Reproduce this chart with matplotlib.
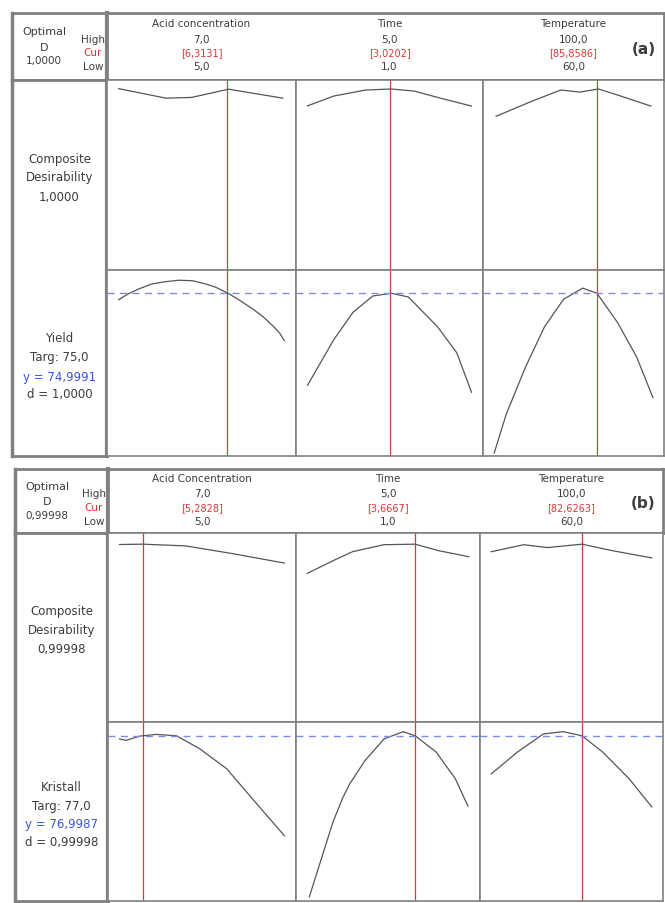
import matplotlib.pyplot as plt

W, H = 665, 904

# ---- panel (a): Yield ----
names_a = ['Acid concentration', 'Time', 'Temperature']
high_a = ['7,0', '5,0', '100,0']
low_a = ['5,0', '1,0', '60,0']
cur_a = ['[6,3131]', '[3,0202]', '[85,8586]']
lo_a = [5.0, 1.0, 60.0]
hi_a = [7.0, 5.0, 100.0]
opt_a = [6.3131, 3.0202, 85.8586]
D_a = '1,0000'
resp_a = ['Yield', 'Targ: 75,0', 'y = 74,9991', 'd = 1,0000']
target_a = 75.0

acid_d_x_a = [5.0, 5.57, 5.88, 6.30, 6.33, 6.45, 6.98]
acid_d_a = [1.0, 0.945, 0.949, 0.994, 0.997, 0.987, 0.945]
time_d_x_a = [1.0, 1.64, 2.42, 3.04, 3.60, 4.24, 5.0]
time_d_a = [0.90, 0.957, 0.992, 0.998, 0.986, 0.945, 0.899]
temp_d_x_a = [60.5, 69.6, 76.8, 81.6, 86.3, 91.1, 99.5]
temp_d_a = [0.84, 0.928, 0.992, 0.98, 0.998, 0.963, 0.899]

acid_y_x_a = [5.0, 5.12, 5.24, 5.40, 5.57, 5.73, 5.89, 6.05, 6.17, 6.32,
              6.45, 6.62, 6.74, 6.86, 6.94, 7.0]
acid_y_a = [73.6, 74.9, 75.9, 77.0, 77.5, 77.8, 77.7, 77.0, 76.3, 75.0,
            73.6, 71.6, 70.0, 68.0, 66.5, 64.8]
time_y_x_a = [1.0, 1.64, 2.11, 2.59, 3.04, 3.46, 4.17, 4.64, 5.0]
time_y_a = [55.2, 65.0, 70.9, 74.4, 75.0, 74.2, 67.8, 62.2, 53.7]
temp_y_x_a = [60.0, 63.1, 67.9, 72.7, 77.5, 82.3, 85.9, 91.1, 95.9, 100.0]
temp_y_a = [40.6, 49.1, 59.1, 67.8, 73.7, 76.1, 75.0, 68.7, 61.3, 52.6]

# ---- panel (b): Kristall ----
names_b = ['Acid Concentration', 'Time', 'Temperature']
high_b = ['7,0', '5,0', '100,0']
low_b = ['5,0', '1,0', '60,0']
cur_b = ['[5,2828]', '[3,6667]', '[82,6263]']
lo_b = [5.0, 1.0, 60.0]
hi_b = [7.0, 5.0, 100.0]
opt_b = [5.2828, 3.6667, 82.6263]
D_b = '0,99998'
resp_b = ['Kristall', 'Targ: 77,0', 'y = 76,9987', 'd = 0,99998']
target_b = 77.0

acid_d_x_b = [5.0, 5.28, 5.8, 6.37, 7.0]
acid_d_b = [0.998, 1.0, 0.99, 0.945, 0.89]
time_d_x_b = [1.0, 1.64, 2.12, 2.9, 3.67, 4.26, 5.0]
time_d_b = [0.83, 0.904, 0.956, 0.997, 1.0, 0.962, 0.927]
temp_d_x_b = [60.0, 68.1, 74.0, 82.6, 90.2, 100.0]
temp_d_b = [0.956, 0.997, 0.98, 1.0, 0.962, 0.92]

acid_y_x_b = [5.0, 5.08, 5.24, 5.28, 5.45, 5.69, 5.97, 6.3, 6.61, 7.0]
acid_y_b = [76.3, 76.0, 76.9, 77.0, 77.3, 77.0, 74.2, 69.8, 63.3, 55.2]
time_y_x_b = [1.05, 1.64, 1.88, 2.05, 2.43, 2.9, 3.38, 3.67, 4.19, 4.67, 4.98]
time_y_b = [41.9, 58.3, 63.5, 66.5, 71.6, 76.3, 77.9, 77.0, 73.5, 67.6, 61.7]
temp_y_x_b = [60.0, 66.6, 73.0, 77.9, 82.6, 87.7, 94.4, 100.0]
temp_y_b = [68.7, 73.5, 77.4, 77.9, 77.0, 73.5, 67.6, 61.5]

TXT = '#3c3c3c'
RED = '#e03535'
BLUE = '#3a55e0'
EDGE = '#808080'

fig = plt.figure(figsize=(W / 100, H / 100), dpi=100)


def fbox(x0, y0, x1, y1):
    return [x0 / W, 1 - y1 / H, (x1 - x0) / W, (y1 - y0) / H]


def ftext(x, y, s, **kw):
    kw.setdefault('color', TXT)
    fig.text(x / W, 1 - y / H, s, ha='center', va='center', **kw)


def blank(ax, lw=1.2):
    ax.set_xticks([])
    ax.set_yticks([])
    for sp in ax.spines.values():
        sp.set_color(EDGE)
        sp.set_linewidth(lw)


def panel(lay, names, highs, lows, curs, lo, hi, opt, D, resp, target,
          dcurves, ycurves, ylim_y, tag):
    x0, top, hdr, mid, bot = lay['x0'], lay['top'], lay['hdr'], lay['mid'], lay['bot']
    cols = lay['cols']
    # header
    hl = fig.add_axes(fbox(x0, top, cols[0], hdr))
    blank(hl, 2)
    hr = fig.add_axes(fbox(cols[0], top, cols[-1], hdr))
    blank(hr, 2)
    # left label column
    lc = fig.add_axes(fbox(x0, hdr, cols[0], bot))
    blank(lc, 2)
    hl.spines['right'].set_linewidth(3)
    lc.spines['right'].set_linewidth(3)
    hl.spines['left'].set_linewidth(2.5)
    lc.spines['left'].set_linewidth(2.5)

    ty = lay['ty']
    ox = x0 + 32
    ftext(ox, ty[0] + 8, 'Optimal', fontsize=8)
    ftext(ox, ty[1] + 8, 'D', fontsize=8)
    ftext(ox, ty[2] + 8, D, fontsize=7.5)
    ftext(cols[0] - 14, ty[1], 'High', fontsize=7.5)
    ftext(cols[0] - 14, ty[2], 'Cur', fontsize=7.5, color=RED)
    ftext(cols[0] - 14, ty[3], 'Low', fontsize=7.5)
    for i in range(3):
        cx = (cols[i] + cols[i + 1]) / 2
        ftext(cx, ty[0], names[i], fontsize=7.5)
        ftext(cx, ty[1], highs[i], fontsize=7.5)
        ftext(cx, ty[2], curs[i], fontsize=7, color=RED)
        ftext(cx, ty[3], lows[i], fontsize=7.5)
    ftext(cols[-1] - 20, (top + hdr) / 2 + 2, tag, fontsize=11, fontweight='bold')

    lx = (x0 + cols[0]) / 2
    for s, yy in zip(['Composite', 'Desirability', D], lay['cy']):
        ftext(lx, yy, s, fontsize=8.5)
    for j, (s, yy) in enumerate(zip(resp, lay['ry'])):
        ftext(lx, yy, s, fontsize=8.5, color=BLUE if j == 2 else TXT)

    for i in range(3):
        pad = 0.07 * (hi[i] - lo[i])
        xl = (lo[i] - pad, hi[i] + pad)
        ad = fig.add_axes(fbox(cols[i], hdr, cols[i + 1], mid))
        ay = fig.add_axes(fbox(cols[i], mid, cols[i + 1], bot))
        for ax in (ad, ay):
            blank(ax, 1.2)
            ax.set_xlim(*xl)
            ax.axvline(opt[i], color='#cc3f3f', lw=0.9)
        ad.set_ylim(lay['dlim'])
        ay.set_ylim(ylim_y)
        ad.plot(dcurves[i][0], dcurves[i][1], color='#555555', lw=0.9)
        ay.plot(ycurves[i][0], ycurves[i][1], color='#555555', lw=0.9)
        ay.axhline(target, color='#7d8ce6', lw=1.0, ls=(0, (5, 4)))


lay_a = dict(x0=12, top=14, hdr=81, mid=271, bot=457, cols=[107, 296, 483, 664],
             ty=[24, 40, 53, 67], cy=[160, 178, 197], ry=[339, 358, 377, 395],
             dlim=(-0.05, 1.05))
lay_b = dict(x0=15, top=470, hdr=534, mid=723, bot=902, cols=[108, 296, 480, 663],
             ty=[479, 494, 508, 522], cy=[612, 631, 650], ry=[788, 807, 825, 843],
             dlim=(-0.035, 1.065))

panel(lay_a, names_a, high_a, low_a, cur_a, lo_a, hi_a, opt_a, D_a, resp_a, target_a,
      [(acid_d_x_a, acid_d_a), (time_d_x_a, time_d_a), (temp_d_x_a, temp_d_a)],
      [(acid_y_x_a, acid_y_a), (time_y_x_a, time_y_a), (temp_y_x_a, temp_y_a)],
      (40, 80), '(a)')
panel(lay_b, names_b, high_b, low_b, cur_b, lo_b, hi_b, opt_b, D_b, resp_b, target_b,
      [(acid_d_x_b, acid_d_b), (time_d_x_b, time_d_b), (temp_d_x_b, temp_d_b)],
      [(acid_y_x_b, acid_y_b), (time_y_x_b, time_y_b), (temp_y_x_b, temp_y_b)],
      (41, 80), '(b)')

fig.savefig('out.png', dpi=100)
